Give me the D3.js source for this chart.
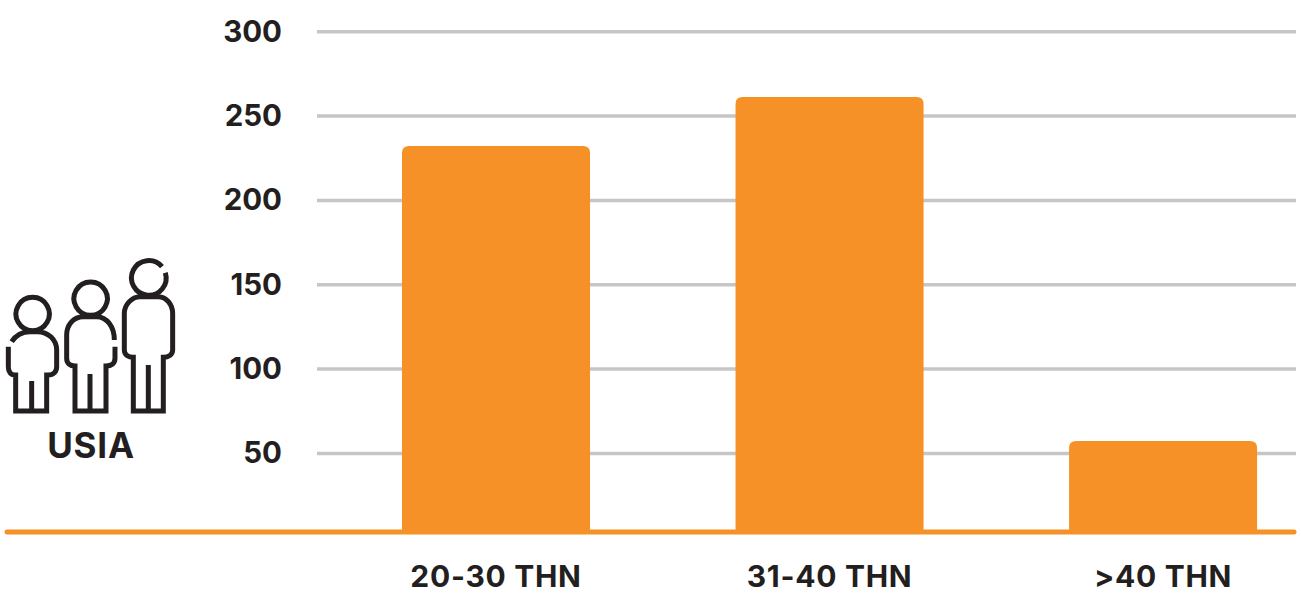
<!DOCTYPE html>
<html>
<head>
<meta charset="utf-8">
<script src="https://d3js.org/d3.v7.min.js"></script>
<style>
  html, body { margin: 0; padding: 0; background: #fff; }
  svg { display: block; }
  text { font-family: "Inter", sans-serif; font-weight: 700; fill: #231f20; }
</style>
</head>
<body>
<div id="chart"></div>
<script>
var categories = ["20-30 THN", "31-40 THN", ">40 THN"];
var values = [232, 261, 57];
var yTicks = [50, 100, 150, 200, 250, 300];

var svgWidth = 1301;
var svgHeight = 594;
var baselineY = 532;
var orange = "#f59127";

var svg = d3.select("#chart")
  .append("svg")
  .attr("width", svgWidth)
  .attr("height", svgHeight);

// scales
var yScale = d3.scaleLinear()
  .domain([0, 300])
  .range([537.2, 31.3]);

var xScale = d3.scaleBand()
  .domain(categories)
  .range([329.3, 1329.8])
  .paddingInner(0.4363)
  .paddingOuter(0.218);

// gridlines + y labels
var yAxis = d3.axisLeft(yScale)
  .tickValues(yTicks)
  .tickSize(-979)
  .tickPadding(35);

var yGroup = svg.append("g")
  .attr("transform", "translate(317, 0)")
  .call(yAxis);

yGroup.select(".domain").remove();
yGroup.selectAll(".tick line")
  .attr("stroke", "#c6c6c6")
  .attr("stroke-width", 3.5);
yGroup.selectAll(".tick text")
  .attr("font-size", 29.5)
  .attr("dy", "0.33em");

// bars, rounded on top only
svg.selectAll(".bar")
  .data(values)
  .enter()
  .append("path")
  .attr("class", "bar")
  .attr("fill", orange)
  .attr("d", function(d, i) {
    var x0 = xScale(categories[i]);
    var x1 = x0 + xScale.bandwidth();
    var top = yScale(d);
    var r = 7;
    return "M" + x0 + "," + baselineY +
      "V" + (top + r) +
      "Q" + x0 + "," + top + " " + (x0 + r) + "," + top +
      "H" + (x1 - r) +
      "Q" + x1 + "," + top + " " + x1 + "," + (top + r) +
      "V" + baselineY + "Z";
  });

// baseline
svg.append("line")
  .attr("x1", 7)
  .attr("x2", 1294)
  .attr("y1", baselineY)
  .attr("y2", baselineY)
  .attr("stroke", orange)
  .attr("stroke-width", 5)
  .attr("stroke-linecap", "round");

// category labels
var xAxis = d3.axisBottom(xScale)
  .tickSize(0)
  .tickPadding(34);

var xGroup = svg.append("g")
  .attr("transform", "translate(0, " + baselineY + ")")
  .call(xAxis);

xGroup.select(".domain").remove();
xGroup.selectAll(".tick text")
  .attr("font-size", 30)
  .attr("letter-spacing", 0.7);

// people icon, coordinates in 3x units
var icon = svg.append("g")
  .attr("transform", "translate(0, 250) scale(0.3333)")
  .attr("fill", "none")
  .attr("stroke", "#231f20")
  .attr("stroke-width", 15);

var iconHeads = [
  "M98,142A50,50 0 1 1 97.9,142Z",
  "M272,96A50,50 0 1 1 271.9,96Z",
  "M486,50A52,52 0 1 0 496,68"
];
var iconBodies = [
  "M35,275C48,255 65,245 90,245H112C145,245 170,270 170,300V350C170,365 160,375 145,375H140V483H47V375H45C32,375 25,365 25,350V290",
  "M343,270C343,230 320,200 290,200H250C220,200 200,225 200,255V325C200,340 210,348 225,348V483H318V348C335,348 345,340 345,325V290",
  "M420,140H475C500,140 518,165 518,190V300C518,315 505,322 490,322V483H400V322C385,322 373,315 373,300V190C373,165 395,140 420,140Z"
];
var iconLegs = ["M95,393V483", "M270,372V483", "M445,345V483"];

icon.selectAll(".head").data(iconHeads).enter().append("path").attr("d", d => d);
icon.selectAll(".body").data(iconBodies).enter().append("path").attr("d", d => d);
icon.selectAll(".leg").data(iconLegs).enter().append("path").attr("d", d => d);

svg.append("text")
  .attr("x", 91)
  .attr("y", 457.5)
  .attr("text-anchor", "middle")
  .attr("font-size", 35)
  .attr("letter-spacing", 0.8)
  .text("USIA");
</script>
</body>
</html>
